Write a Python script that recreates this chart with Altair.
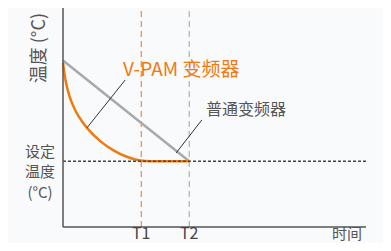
import altair as alt
import pandas as pd

FONT = "Noto Sans CJK SC"

# curve data (time, temperature in arbitrary units)
vpam_t = [0, 0.1, 0.25, 0.5, 0.75, 1.0, 1.5, 2.0, 2.5, 3.0, 3.5, 5.0]
vpam_v = [75, 67, 60, 53, 48.3, 44.6, 39, 35, 32.2, 30.5, 30, 30]
norm_t = [0, 5.0]
norm_v = [76, 30]
setpoint = 30
t1, t2 = 3.1, 5.0
x_max, y_max = 12, 100

xs = alt.Scale(domain=[0, x_max], nice=False, zero=False)
ys = alt.Scale(domain=[0, y_max], nice=False, zero=False)

vpam = pd.DataFrame({"t": vpam_t, "v": vpam_v})
norm = pd.DataFrame({"t": norm_t, "v": norm_v})

base_x = lambda f="t": alt.X(f"{f}:Q", scale=xs, axis=None)
base_y = lambda f="v": alt.Y(f"{f}:Q", scale=ys, axis=None)

sp = pd.DataFrame({"t": [0], "t2": [x_max], "v": [setpoint]})
setline = alt.Chart(sp).mark_rule(color="#444", strokeWidth=1.6, strokeDash=[3, 2]).encode(
    x=base_x(), x2="t2", y=base_y())

vl = pd.DataFrame({"t": [t1, t2], "v": [0, 0], "v2": [y_max, y_max], "c": ["T1", "T2"]})
vlines = alt.Chart(vl).mark_rule(strokeWidth=1.2, strokeDash=[6, 4]).encode(
    x=base_x(), y=base_y(), y2="v2",
    color=alt.Color("c:N", scale=alt.Scale(domain=["T1", "T2"], range=["#f08a3c", "#b0b0b0"]), legend=None))

normal = alt.Chart(norm).mark_line(color="#a9a9a9", strokeWidth=2.5).encode(x=base_x(), y=base_y())
vp = alt.Chart(vpam).mark_line(color="#f07a10", strokeWidth=2.5, interpolate="monotone").encode(x=base_x(), y=base_y())

ax = pd.DataFrame({"t": [0, 0], "t2": [0, x_max], "v": [0, 0], "v2": [y_max, 0]})
axes = alt.Chart(ax).mark_rule(color="#555", strokeWidth=1.5).encode(x=base_x(), x2="t2", y=base_y(), y2="v2")

lead = pd.DataFrame({"t": [0.95, 4.48], "t2": [2.46, 5.5], "v": [45.3, 33.8], "v2": [67.1, 48.9]})
leaders = alt.Chart(lead).mark_rule(color="#333", strokeWidth=1).encode(x=base_x(), x2="t2", y=base_y(), y2="v2")

def txt(df, **kw):
    return alt.Chart(df).mark_text(font=FONT, **kw).encode(x=base_x(), y=base_y(), text="s:N")

ylab = txt(pd.DataFrame({"t": [-0.91], "v": [81.7], "s": ["温度 (°C)"]}), angle=270, fontSize=18, color="#555")
splab = txt(pd.DataFrame({"t": [-0.91] * 3, "v": [34.2, 24.9, 15.3], "s": ["设定", "温度", "(°C)"]}),
            fontSize=15, color="#555")
tlab = txt(pd.DataFrame({"t": [t1, t2], "v": [-7.0, -7.0], "s": ["T1", "T2"]}),
           fontSize=16, color="#444", baseline="bottom")
timelab = txt(pd.DataFrame({"t": [11.25], "v": [-7.0], "s": ["时间"]}), fontSize=15, color="#555", baseline="bottom")
vpl = txt(pd.DataFrame({"t": [2.38], "v": [71.7], "s": ["V-PAM 变频器"]}), fontSize=19, color="#f07a10", align="left")
nl = txt(pd.DataFrame({"t": [5.66], "v": [53.4], "s": ["普通变频器"]}), fontSize=16, color="#555", align="left")

chart = alt.layer(vlines, normal, vp, setline, axes, leaders, ylab, splab, tlab, timelab, vpl, nl).properties(
    width=303, height=219,
    autosize=alt.AutoSizeParams(type="none"),
    padding={"left": 55, "top": 0, "right": 17, "bottom": 16},
    background="#f9fafc",
).configure_view(stroke=None)

chart.save("out.html", embed_options={"renderer": "svg", "actions": False})
